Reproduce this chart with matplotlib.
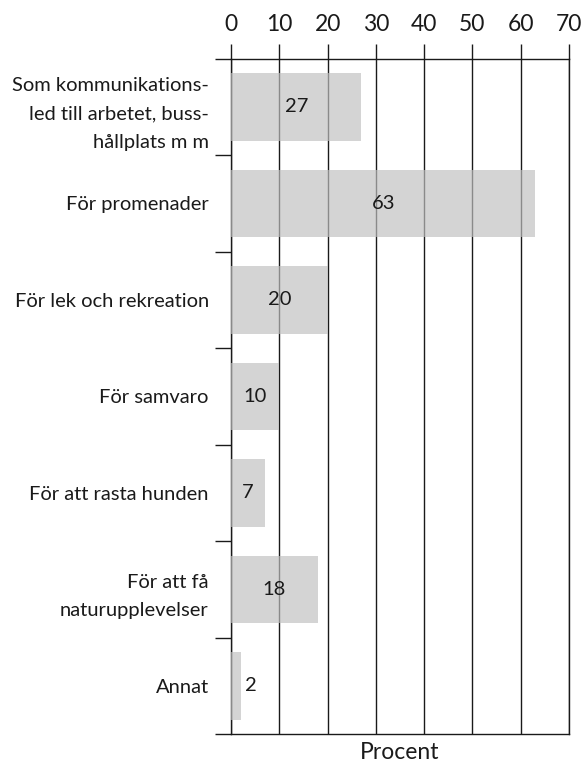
import matplotlib.pyplot as plt
import numpy as np

# data
categories = ['Som kommunikations-\nled till arbetet, buss-\nhållplats m m',
              'För promenader',
              'För lek och rekreation',
              'För samvaro',
              'För att rasta hunden',
              'För att få\nnaturupplevelser',
              'Annat']
values = [27, 63, 20, 10, 7, 18, 2]
xticks = [0, 10, 20, 30, 40, 50, 60, 70]

plt.rcParams['font.family'] = ['Lato', 'DejaVu Sans']
line_col = '#1a1a1a'
txt_col = '#1a1a1a'

fig = plt.figure(figsize=(5.82, 7.67), dpi=100)
ax = fig.add_axes([0.397, 0.043, 0.5807, 0.8805])

y = np.arange(len(categories))
ax.set_axisbelow(True)
ax.grid(axis='x', color=line_col, linewidth=1.0)
ax.barh(y, values, height=0.7, color='#c0c0c0', alpha=0.68, zorder=3)

for yi, v in zip(y, values):
    if v >= 5:
        ax.text(v / 2, yi, str(v), ha='center', va='center', fontsize=14.5, color=txt_col, zorder=4)
    else:
        ax.text(v + 0.9, yi, str(v), ha='left', va='center', fontsize=14.5, color=txt_col, zorder=4)

ax.set_xlim(0, 70)
ax.set_ylim(len(categories) - 0.5, -0.5)
ax.xaxis.tick_top()
ax.set_xticks(xticks)
ax.tick_params(axis='x', which='major', direction='out', length=11, width=1.0,
               color=line_col, labelsize=16.5, pad=6, labelcolor=txt_col)

# category labels at centres, ticks at boundaries
ax.set_yticks(y)
ax.set_yticklabels(categories, fontsize=14.5, linespacing=1.8, color=txt_col)
ax.tick_params(axis='y', which='major', length=0, pad=16)
ax.set_yticks(np.arange(-0.5, len(categories)), minor=True)
ax.tick_params(axis='y', which='minor', direction='out', length=11.5, width=1.0, color=line_col)

for side in ['left', 'top', 'bottom', 'right']:
    ax.spines[side].set_color(line_col)
    ax.spines[side].set_linewidth(1.0)

ax.text(0.5, -0.028, 'Procent', transform=ax.transAxes, ha='center', va='center',
        fontsize=16.5, color=txt_col)

fig.savefig('out.png', dpi=100)
